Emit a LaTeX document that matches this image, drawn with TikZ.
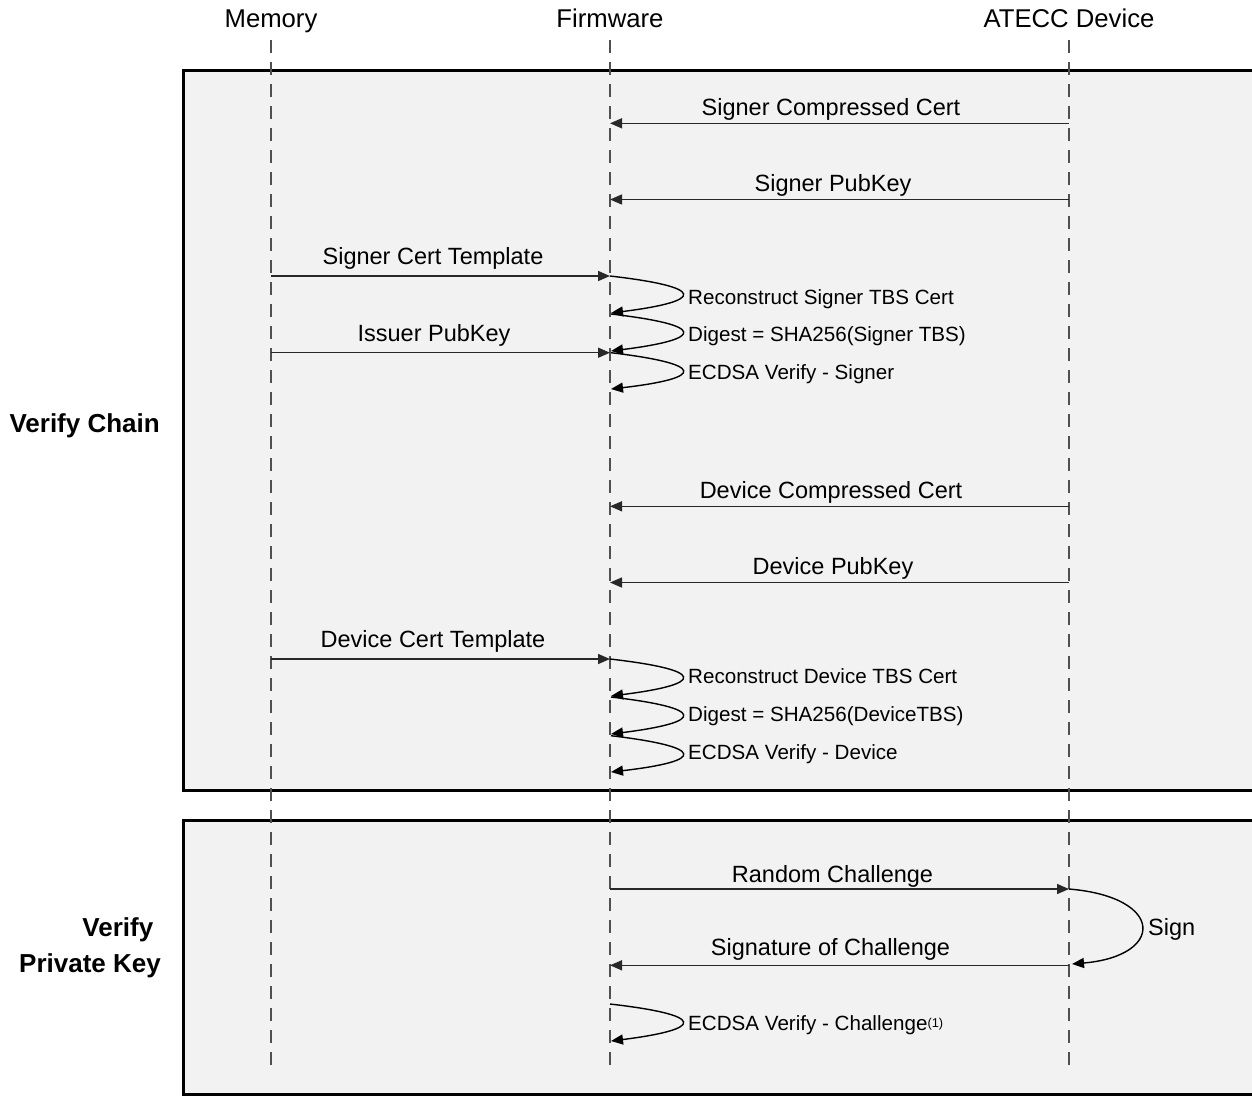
\documentclass[tikz,border=0pt]{standalone}
\usepackage{fontspec}
\setmainfont{Liberation Sans}
\usetikzlibrary{arrows.meta}
\definecolor{boxfill}{RGB}{242,242,242}
\definecolor{lifegray}{RGB}{80,80,80}
\definecolor{msggray}{RGB}{40,40,40}
\begin{document}
\begin{tikzpicture}[x=1pt,y=-1pt,
  hdr/.style={font=\fontsize{25.7}{30}\selectfont, anchor=base, inner sep=0pt},
  msglbl/.style={font=\fontsize{23.5}{28}\selectfont, anchor=base, inner sep=0pt},
  looplbl/.style={font=\fontsize{20.6}{24}\selectfont, anchor=base west, inner sep=0pt},
  phaselbl/.style={font=\bfseries\fontsize{26}{36}\selectfont, anchor=base east, inner sep=0pt},
  phasebox/.style={fill=boxfill, draw=black, line width=3pt},
  lifeline/.style={draw=lifegray, line width=1.6pt, dash pattern=on 13pt off 9pt},
  msg/.style={draw=msggray, line width=1.5pt, -{Triangle[length=12pt,width=10pt]}},
  selfloop/.style={draw=black, line width=1.4pt, -{Triangle[length=12pt,width=10pt]}},
]
\useasboundingbox (0,0) rectangle (1252,1096);
\fill[white] (0,0) rectangle (1252,1096);

% phase frames
\draw[phasebox] (183,70.5) rectangle (1253,790);
\draw[phasebox] (183,820.5) rectangle (1253,1094.5);

% participants
\node[hdr] (mem) at (271,27) {Memory};
\node[hdr] (fw) at (610,27) {Firmware};
\node[hdr] (atecc) at (1069,27) {ATECC Device};

% lifelines
\coordinate (memtop) at (271,40);   \coordinate (membot) at (271,1066);
\coordinate (fwtop) at (610,40);    \coordinate (fwbot) at (610,1066);
\coordinate (attop) at (1069,40);   \coordinate (atbot) at (1069,1066);
\draw[lifeline] (memtop) -- (membot);
\draw[lifeline] (fwtop) -- (fwbot);
\draw[lifeline] (attop) -- (atbot);

% phase labels
\node[phaselbl] (pchain) at (160,432) {Verify Chain};
\node[phaselbl] (pkey1) at (153.5,936.7) {Verify};
\node[phaselbl] (pkey2) at (161,972.7) {Private Key};

% ---- signer certificate ----
\coordinate (a1) at (1069,123.3); \coordinate (f1) at (610,123.3);
\draw[msg] (a1) -- (f1);
\node[msglbl] (m1) at (831,115) {Signer Compressed Cert};

\coordinate (a2) at (1069,199.5); \coordinate (f2) at (610,199.5);
\draw[msg] (a2) -- (f2);
\node[msglbl] (m2) at (833,191.7) {Signer PubKey};

\coordinate (s3) at (271,276); \coordinate (f3) at (610,276);
\draw[msg] (s3) -- (f3);
\node[msglbl] (m3) at (433,264) {Signer Cert Template};

\coordinate (l1a) at (610,276);   \coordinate (l1b) at (611,313);
\coordinate (l2a) at (611,314);   \coordinate (l2b) at (611,351);
\coordinate (l3a) at (611,352.7); \coordinate (l3b) at (611,389);
\draw[selfloop] (l1a) .. controls (706,287) and (706,301) .. (l1b);
\draw[selfloop] (l2a) .. controls (706,325) and (706,339) .. (l2b);
\draw[selfloop] (l3a) .. controls (706,364) and (706,378) .. (l3b);
\node[looplbl] (t1) at (688,304) {Reconstruct Signer TBS Cert};
\node[looplbl] (t2) at (688,341.7) {Digest = SHA256(Signer TBS)};
\node[looplbl] (t3) at (688,379.3) {ECDSA Verify - Signer};

\coordinate (s4) at (271,352.7); \coordinate (f4) at (610,352.7);
\draw[msg] (s4) -- (f4);
\node[msglbl] (m4) at (434,341) {Issuer PubKey};

% ---- device certificate ----
\coordinate (a5) at (1069,506.3); \coordinate (f5) at (610,506.3);
\draw[msg] (a5) -- (f5);
\node[msglbl] (m5) at (831,498) {Device Compressed Cert};

\coordinate (a6) at (1069,582.5); \coordinate (f6) at (610,582.5);
\draw[msg] (a6) -- (f6);
\node[msglbl] (m6) at (833,574.7) {Device PubKey};

\coordinate (s7) at (271,659); \coordinate (f7) at (610,659);
\draw[msg] (s7) -- (f7);
\node[msglbl] (m7) at (433,647) {Device Cert Template};

\coordinate (l4a) at (610,659);   \coordinate (l4b) at (611,696);
\coordinate (l5a) at (611,697);   \coordinate (l5b) at (611,734);
\coordinate (l6a) at (611,735.7); \coordinate (l6b) at (611,772);
\draw[selfloop] (l4a) .. controls (706,670) and (706,684) .. (l4b);
\draw[selfloop] (l5a) .. controls (706,708) and (706,722) .. (l5b);
\draw[selfloop] (l6a) .. controls (706,747) and (706,761) .. (l6b);
\node[looplbl] (t4) at (688,683) {Reconstruct Device TBS Cert};
\node[looplbl] (t5) at (688,721) {Digest = SHA256(DeviceTBS)};
\node[looplbl] (t6) at (688,759) {ECDSA Verify - Device};

% ---- private key check ----
\coordinate (f8) at (610,889); \coordinate (a8) at (1069,889);
\draw[msg] (f8) -- (a8);
\node[msglbl] (m8) at (832.5,882.7) {Random Challenge};

\coordinate (sg1) at (1069,889); \coordinate (sg2) at (1072,964);
\draw[selfloop] (sg1) .. controls (1165,897) and (1165,956) .. (sg2);
\node[msglbl, anchor=base west] (sg) at (1148,935.5) {Sign};

\coordinate (a9) at (1069,965.3); \coordinate (f9) at (610,965.3);
\draw[msg] (a9) -- (f9);
\node[msglbl] (m9) at (830.5,955.7) {Signature of Challenge};

\coordinate (l7a) at (610,1004); \coordinate (l7b) at (611,1041);
\draw[selfloop] (l7a) .. controls (706,1015) and (706,1029) .. (l7b);
\node[looplbl] (t7) at (688,1030.7) {ECDSA Verify - Challenge\raisebox{3pt}{\fontsize{12.8}{14}\selectfont(1)}};
\end{tikzpicture}
\end{document}
